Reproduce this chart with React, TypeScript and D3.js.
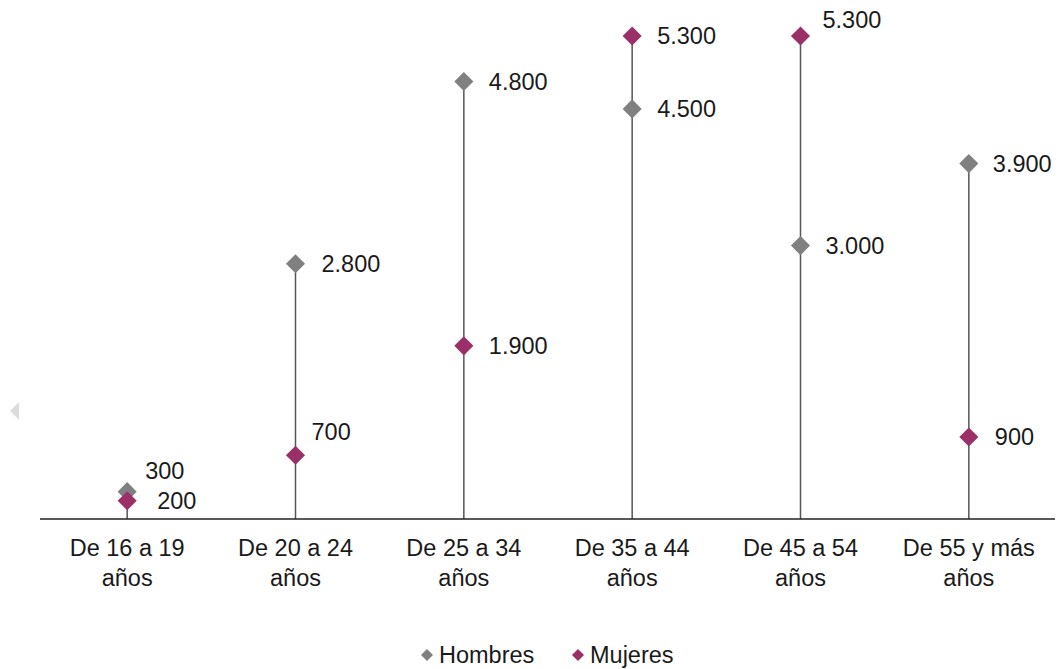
import React from "react";
import * as d3 from "d3";

const categories: string[][] = [
  ["De 16 a 19", "años"],
  ["De 20 a 24", "años"],
  ["De 25 a 34", "años"],
  ["De 35 a 44", "años"],
  ["De 45 a 54", "años"],
  ["De 55 y más", "años"],
];
const hombres = [300, 2800, 4800, 4500, 3000, 3900];
const mujeres = [200, 700, 1900, 5300, 5300, 900];
const seriesNames = ["Hombres", "Mujeres"];

// label layout nudges (dx, dy) per point
const hombresNudge: [number, number][] = [[18, -21], [26, 0], [25, 0], [25, 0], [25, 0], [24, 0]];
const mujeresNudge: [number, number][] = [[30, 0], [16, -24], [25, 0], [25, 0], [22, -16], [26, 0]];

const W = 1062;
const H = 669;
const GRAY = "#808080";
const MAGENTA = "#9B3069";
const TEXT = "#1a1a1a";
const FONT = "'Liberation Sans', Arial, sans-serif";
const FS = 23.5;

const fmt = (v: number) => d3.format(",")(v).replace(/,/g, ".");

export default function App() {
  const keys = categories.map((c) => c.join(" "));
  const x = d3.scalePoint<string>().domain(keys).range([43, 1053]).padding(0.5);
  const y = d3.scaleLinear().domain([0, 5300]).range([519, 36]);
  const diamond = d3.symbol(d3.symbolSquare, 182)() as string;
  const smallDiamond = d3.symbol(d3.symbolSquare, 72)() as string;

  return (
    <svg width={W} height={H} style={{ position: "absolute", left: 0, top: 0, background: "#fff" }} fontFamily={FONT}>
      <rect width={W} height={H} fill="#fff" />
      {/* faint left arrow */}
      <path d="M19,402 L10,411 L19,420 Z" fill="#dcdcdc" />
      {/* high-low lines */}
      {keys.map((k, i) => (
        <line
          key={"v" + k}
          x1={x(k)}
          x2={x(k)}
          y1={y(0)}
          y2={y(Math.max(hombres[i], mujeres[i]))}
          stroke="#555"
          strokeWidth={1.5}
        />
      ))}
      {/* axis */}
      <line x1={40} x2={1055} y1={y(0)} y2={y(0)} stroke="#222" strokeWidth={1.5} />
      {keys.map((k, i) => (
        <text key={"c" + k} x={x(k)} textAnchor="middle" fontSize={FS} fill={TEXT}>
          {categories[i].map((ln, j) => (
            <tspan key={j} x={x(k)} y={556 + j * 30}>
              {ln}
            </tspan>
          ))}
        </text>
      ))}
      {/* markers */}
      {keys.map((k, i) => (
        <g key={"m" + k}>
          <path d={diamond} transform={`translate(${x(k)},${y(hombres[i])}) rotate(45)`} fill={GRAY} />
          <path d={diamond} transform={`translate(${x(k)},${y(mujeres[i])}) rotate(45)`} fill={MAGENTA} />
        </g>
      ))}
      {/* labels */}
      {keys.map((k, i) => (
        <g key={"l" + k} fontSize={FS} fill={TEXT}>
          <text x={(x(k) as number) + hombresNudge[i][0]} y={y(hombres[i]) + hombresNudge[i][1]} dy="0.36em">
            {fmt(hombres[i])}
          </text>
          <text x={(x(k) as number) + mujeresNudge[i][0]} y={y(mujeres[i]) + mujeresNudge[i][1]} dy="0.36em">
            {fmt(mujeres[i])}
          </text>
        </g>
      ))}
      {/* legend */}
      <g fontSize={FS} fill={TEXT}>
        <path d={smallDiamond} transform="translate(427,655) rotate(45)" fill={GRAY} />
        <text x={439} y={655} dy="0.36em">{seriesNames[0]}</text>
        <path d={smallDiamond} transform="translate(578,655) rotate(45)" fill={MAGENTA} />
        <text x={590} y={655} dy="0.36em">{seriesNames[1]}</text>
      </g>
    </svg>
  );
}
